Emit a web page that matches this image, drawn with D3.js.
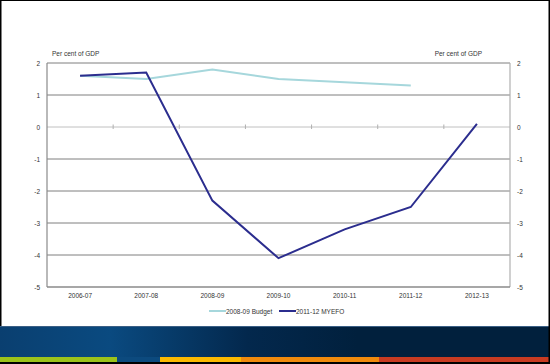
<!DOCTYPE html>
<html>
<head>
<meta charset="utf-8">
<script src="https://cdn.jsdelivr.net/npm/d3@7"></script>
<style>
  body { margin: 0; background: #fff; }
  svg { display: block; font-family: "Liberation Sans", Arial, sans-serif; }
</style>
</head>
<body>
<div id="chart-area"></div>
<script>
// chart data
var years = ["2006-07", "2007-08", "2008-09", "2009-10", "2010-11", "2011-12", "2012-13"];
var budget = [1.6, 1.5, 1.8, 1.5, 1.4, 1.3, null];
var myefo = [1.6, 1.7, -2.3, -4.1, -3.2, -2.5, 0.1];
var yTicks = [2, 1, 0, -1, -2, -3, -4, -5];
var seriesNames = ["2008-09 Budget", "2011-12 MYEFO"];
var seriesColors = ["#a6d7dc", "#2b2d8e"];

var W = 550, H = 364;
var margin = {left: 47, right: 40, top: 63, bottom: 77};
var width = W - margin.left - margin.right;
var height = H - margin.top - margin.bottom;

var svg = d3.select("#chart-area").append("svg")
    .attr("width", W)
    .attr("height", H);

svg.append("rect").attr("width", W).attr("height", H).attr("fill", "#fff");

// footer banner
var defs = svg.append("defs");
var grad = defs.append("linearGradient").attr("id", "navy").attr("x1", "0").attr("x2", "1");
grad.append("stop").attr("offset", "0").attr("stop-color", "#0a3f70");
grad.append("stop").attr("offset", "0.2").attr("stop-color", "#0a4a80");
grad.append("stop").attr("offset", "0.45").attr("stop-color", "#03284d");
grad.append("stop").attr("offset", "0.65").attr("stop-color", "#01203d");
grad.append("stop").attr("offset", "1").attr("stop-color", "#01203d");

svg.append("rect").attr("x", 0).attr("y", 326).attr("width", W).attr("height", 31)
    .attr("fill", "url(#navy)");
svg.append("rect").attr("x", 0).attr("y", 326).attr("width", W).attr("height", 1)
    .attr("fill", "#3a5f85");

var strip = [
    {x0: 0, x1: 117, c: "#9cc31a"},
    {x0: 117, x1: 160, c: "#0c4a7e"},
    {x0: 160, x1: 241, c: "#fbb900"},
    {x0: 241, x1: 379, c: "#f08a0c"},
    {x0: 379, x1: 550, c: "#c83b22"}
];
svg.selectAll(".strip").data(strip).enter().append("rect")
    .attr("x", function(d) { return d.x0; })
    .attr("y", 357)
    .attr("width", function(d) { return d.x1 - d.x0; })
    .attr("height", 5)
    .attr("fill", function(d) { return d.c; });
svg.append("rect").attr("x", 0).attr("y", 362).attr("width", W).attr("height", 2).attr("fill", "#000");

// black border
svg.append("rect").attr("x", 0).attr("y", 0).attr("width", W).attr("height", 1).attr("fill", "#000");
svg.append("rect").attr("x", 0).attr("y", 0).attr("width", 1.5).attr("height", 326).attr("fill", "#000");
svg.append("rect").attr("x", 548.5).attr("y", 0).attr("width", 1.5).attr("height", H).attr("fill", "#000");

var g = svg.append("g")
    .attr("transform", "translate(" + margin.left + "," + margin.top + ")");

var x = d3.scaleBand()
    .domain(years)
    .range([0, width]);

var y = d3.scaleLinear()
    .domain([-5, 2])
    .range([height, 0]);

// gridlines
g.selectAll(".grid").data(yTicks.filter(function(d) { return d !== 0 && d !== -5; }))
    .enter().append("line")
    .attr("x1", 0).attr("x2", width)
    .attr("y1", function(d) { return y(d); })
    .attr("y2", function(d) { return y(d); })
    .attr("stroke", "#7f7f7f")
    .attr("stroke-width", 1);

// zero line with category ticks
g.append("line")
    .attr("x1", 0).attr("x2", width)
    .attr("y1", y(0)).attr("y2", y(0))
    .attr("stroke", "#c0c0c0");
g.selectAll(".xtick").data(years.slice(1))
    .enter().append("line")
    .attr("x1", function(d) { return x(d); })
    .attr("x2", function(d) { return x(d); })
    .attr("y1", y(0) - 2.5).attr("y2", y(0) + 2)
    .attr("stroke", "#b0b0b0");

// frame axes
g.append("line").attr("x1", 0).attr("x2", 0).attr("y1", 0).attr("y2", height)
    .attr("stroke", "#8a8a8a").attr("stroke-width", 1.2);
g.append("line").attr("x1", width).attr("x2", width).attr("y1", 0).attr("y2", height)
    .attr("stroke", "#b0b0b0").attr("stroke-width", 1.2);
g.append("line").attr("x1", 0).attr("x2", width).attr("y1", height).attr("y2", height)
    .attr("stroke", "#8a8a8a").attr("stroke-width", 1.5);

// y labels, both sides (plain hyphen for negatives)
var fmt = function(d) { return String(d); };
var leftAxis = d3.axisLeft(y).tickValues(yTicks).tickFormat(fmt).tickSize(0).tickPadding(7);
var rightAxis = d3.axisRight(y).tickValues(yTicks).tickFormat(fmt).tickSize(0).tickPadding(7);

var la = g.append("g").call(leftAxis);
var ra = g.append("g").attr("transform", "translate(" + width + ",0)").call(rightAxis);
[la, ra].forEach(function(a) {
    a.select(".domain").remove();
    a.selectAll("text")
        .attr("font-size", 6.5)
        .attr("font-family", "Liberation Sans, Arial, sans-serif")
        .attr("fill", "#333");
});

// x labels
var xa = g.append("g").attr("transform", "translate(0," + height + ")")
    .call(d3.axisBottom(x).tickSize(0).tickPadding(6));
xa.select(".domain").remove();
xa.selectAll("text")
    .attr("font-size", 6.5)
    .attr("font-family", "Liberation Sans, Arial, sans-serif")
    .attr("fill", "#333");

// axis titles
g.append("text")
    .attr("x", 5).attr("y", -7)
    .attr("font-size", 6.5)
    .attr("fill", "#333")
    .text("Per cent of GDP");
g.append("text")
    .attr("x", width - 28).attr("y", -7)
    .attr("text-anchor", "end")
    .attr("font-size", 6.5)
    .attr("fill", "#333")
    .text("Per cent of GDP");

// lines
var line = d3.line()
    .defined(function(d) { return d != null; })
    .x(function(d, i) { return x(years[i]) + x.bandwidth() / 2; })
    .y(function(d) { return y(d); });

[budget, myefo].forEach(function(s, i) {
    g.append("path")
        .datum(s)
        .attr("fill", "none")
        .attr("stroke", seriesColors[i])
        .attr("stroke-width", 2)
        .attr("d", line);
});

// legend
var legendX = [209, 279];
seriesNames.forEach(function(name, i) {
    var row = svg.append("g")
        .attr("transform", "translate(" + legendX[i] + ",311)");
    row.append("line")
        .attr("x1", 0).attr("x2", 17)
        .attr("y1", 0).attr("y2", 0)
        .attr("stroke", seriesColors[i])
        .attr("stroke-width", 2);
    row.append("text")
        .attr("x", 17).attr("y", 2.5)
        .attr("font-size", 6.5)
        .attr("fill", "#333")
        .text(name);
});
</script>
</body>
</html>
